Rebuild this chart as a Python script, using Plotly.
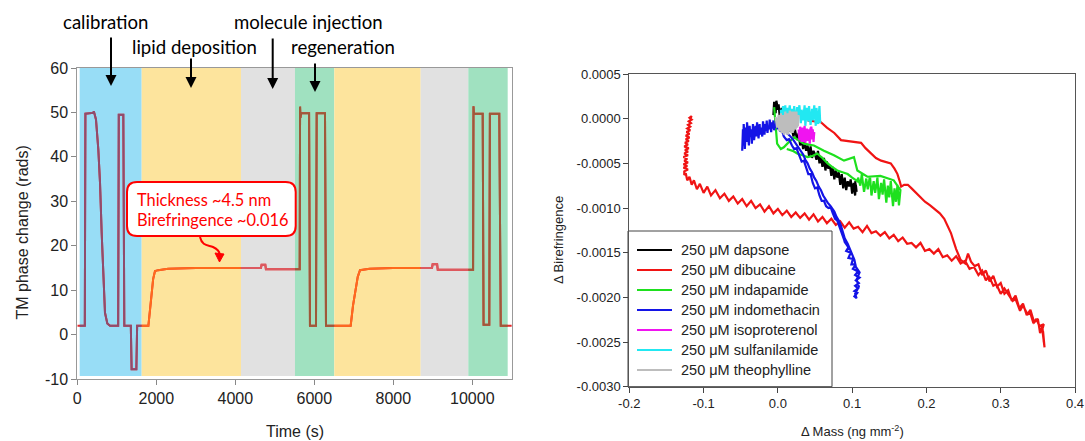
import plotly.graph_objects as go

W, H = 1085, 441

# ---------------- Left panel data ----------------
time_s = [0, 190, 205, 400, 420, 473, 532, 575, 617, 658, 701, 760, 828,
          1035, 1050, 1165, 1190, 1355, 1375, 1495, 1515, 1800, 1850, 1920,
          1967, 2050, 2300, 3000, 4000, 4650, 4665, 4760, 4775, 5630, 5640,
          5650, 5665, 5868, 5890, 6043, 6060, 6271, 6296, 6921, 6980, 7100,
          7157, 7400, 8000, 8980, 8995, 9110, 9125, 10020, 10030, 10040,
          10263, 10285, 10430, 10445, 10683, 10720, 11000]
phase_rads = [2.0, 2.0, 49.7, 49.9, 50.2, 48.4, 41.7, 34.2, 22.9, 11.6, 4.9, 2.5, 2.0,
              2.0, 49.5, 49.5, 2.0, 2.0, -7.8, -7.8, 2.0, 2.0, 6.0, 12.5,
              14.3, 14.5, 14.8, 15.0, 15.0, 15.0, 15.7, 15.7, 14.7, 14.7, 51.3,
              48.8, 49.8, 49.8, 2.0, 2.0, 49.8, 49.8, 2.0, 2.0, 6.5, 13.0,
              14.5, 14.8, 15.0, 15.0, 15.8, 15.8, 14.6, 14.6, 51.4, 49.7,
              49.7, 2.2, 2.2, 49.7, 49.7, 2.0, 2.0]

region_kind = ["cal", "lipid", "inj", "regen", "lipid", "inj", "regen"]
region_start = [60, 1630, 4144, 5511, 6506, 8694, 9899]
region_end = [1630, 4144, 5511, 6506, 8694, 9899, 10896]
region_bottom = -9.3
region_top = 60

left_xticks = [0, 2000, 4000, 6000, 8000, 10000]
left_xticktext = ["0", "2000", "4000", "6000", "8000", "10000"]
left_yticks = [-10, 0, 10, 20, 30, 40, 50, 60]
left_yticktext = ["-10", "0", "10", "20", "30", "40", "50", "60"]

# ---------------- Right panel data: (Δ mass, Δ birefringence) points ----------------
dapsone = [(-0.006, 0.00004), (-0.005, 0.00019), (-0.003, 0.00006), (-0.002, 0.00020), (0.000, 0.00010),
           (0.001, 0.00016), (0.003, -0.00002), (0.005, 0.00012), (0.007, -0.00006), (0.009, 0.00004),
           (0.011, -0.00012), (0.013, -0.00001), (0.016, -0.00014), (0.018, -0.00008), (0.021, -0.00020),
           (0.023, -0.00012), (0.026, -0.00024), (0.028, -0.00016), (0.030, -0.00030), (0.032, -0.00020),
           (0.034, -0.00034), (0.036, -0.00026), (0.038, -0.00036), (0.040, -0.00030), (0.042, -0.00042),
           (0.044, -0.00031), (0.046, -0.00044), (0.048, -0.00036), (0.050, -0.00040), (0.052, -0.00046),
           (0.054, -0.00036), (0.056, -0.00050), (0.058, -0.00042), (0.060, -0.00054), (0.062, -0.00044),
           (0.064, -0.00058), (0.066, -0.00048), (0.068, -0.00056), (0.070, -0.00052), (0.072, -0.00064),
           (0.074, -0.00054), (0.076, -0.00068), (0.078, -0.00058), (0.080, -0.00066), (0.082, -0.00060),
           (0.084, -0.00074), (0.086, -0.00062), (0.088, -0.00078), (0.090, -0.00066), (0.092, -0.00080),
           (0.094, -0.00070), (0.096, -0.00076), (0.098, -0.00068), (0.100, -0.00084), (0.102, -0.00072),
           (0.104, -0.00086), (0.105, -0.00074), (0.106, -0.00082), (0.104, -0.00070)]

dibucaine = [(0.040, -0.00002), (0.050, -0.00003), (0.058, -0.00004), (0.066, -0.00010), (0.076, -0.00016),
             (0.085, -0.00024), (0.095, -0.00025), (0.105, -0.00026), (0.112, -0.00027), (0.118, -0.00033),
             (0.125, -0.00039), (0.132, -0.00044), (0.139, -0.00047), (0.146, -0.00049), (0.152, -0.00050),
             (0.157, -0.00056), (0.161, -0.00062), (0.164, -0.00070), (0.166, -0.00076), (0.170, -0.00074),
             (0.175, -0.00074), (0.180, -0.00078), (0.185, -0.00082), (0.192, -0.00088), (0.198, -0.00093),
             (0.205, -0.00097), (0.212, -0.00102), (0.218, -0.00106), (0.224, -0.00112), (0.229, -0.00120),
             (0.233, -0.00128), (0.236, -0.00136), (0.240, -0.00146), (0.246, -0.00158), (0.252, -0.00162),
             (0.256, -0.00151), (0.260, -0.00160), (0.265, -0.00165), (0.270, -0.00163), (0.275, -0.00175),
             (0.280, -0.00170), (0.285, -0.00182), (0.290, -0.00176), (0.295, -0.00188), (0.300, -0.00184),
             (0.305, -0.00196), (0.310, -0.00192), (0.315, -0.00204), (0.320, -0.00198), (0.325, -0.00212),
             (0.330, -0.00207), (0.335, -0.00220), (0.340, -0.00214), (0.345, -0.00228), (0.350, -0.00224),
             (0.353, -0.00240), (0.356, -0.00232), (0.358, -0.00250), (0.357, -0.00238), (0.359, -0.00256),
             (0.356, -0.00236), (0.358, -0.00230),
             (0.352, -0.00232), (0.348, -0.00224), (0.344, -0.00229), (0.340, -0.00218), (0.336, -0.00219),
             (0.330, -0.00209), (0.326, -0.00215), (0.320, -0.00202), (0.316, -0.00204), (0.310, -0.00196),
             (0.305, -0.00190), (0.300, -0.00196), (0.294, -0.00185), (0.290, -0.00187), (0.284, -0.00176),
             (0.280, -0.00181), (0.275, -0.00170), (0.270, -0.00175), (0.264, -0.00166), (0.258, -0.00168),
             (0.252, -0.00159), (0.246, -0.00162), (0.240, -0.00154), (0.234, -0.00159), (0.228, -0.00153),
             (0.222, -0.00155), (0.216, -0.00146), (0.210, -0.00151), (0.204, -0.00146), (0.198, -0.00148),
             (0.192, -0.00139), (0.186, -0.00144), (0.180, -0.00139), (0.174, -0.00140), (0.168, -0.00133),
             (0.162, -0.00137), (0.156, -0.00130), (0.150, -0.00134), (0.144, -0.00127), (0.138, -0.00131),
             (0.132, -0.00126), (0.126, -0.00128), (0.120, -0.00120), (0.114, -0.00127), (0.108, -0.00121),
             (0.102, -0.00123), (0.096, -0.00116), (0.090, -0.00122), (0.084, -0.00115), (0.078, -0.00119),
             (0.072, -0.00112), (0.066, -0.00117), (0.060, -0.00110), (0.054, -0.00115), (0.048, -0.00107),
             (0.042, -0.00113), (0.036, -0.00106), (0.030, -0.00111), (0.024, -0.00105), (0.018, -0.00110),
             (0.012, -0.00103), (0.006, -0.00108), (0.000, -0.00101), (-0.006, -0.00106), (-0.012, -0.00098),
             (-0.018, -0.00104), (-0.024, -0.00096), (-0.030, -0.00100), (-0.036, -0.00092), (-0.042, -0.00098),
             (-0.048, -0.00090), (-0.054, -0.00095), (-0.060, -0.00087), (-0.066, -0.00092), (-0.072, -0.00084),
             (-0.078, -0.00089), (-0.084, -0.00080), (-0.090, -0.00086), (-0.095, -0.00076), (-0.100, -0.00083),
             (-0.105, -0.00073), (-0.109, -0.00079), (-0.113, -0.00069), (-0.116, -0.00074), (-0.119, -0.00065),
             (-0.122, -0.00069), (-0.124, -0.00061), (-0.126, -0.00063),
             (-0.126, -0.00059), (-0.121, -0.00057), (-0.127, -0.00055), (-0.122, -0.00053), (-0.127, -0.00051),
             (-0.121, -0.00049), (-0.126, -0.00047), (-0.122, -0.00045), (-0.127, -0.00043), (-0.121, -0.00041),
             (-0.126, -0.00039), (-0.121, -0.00037), (-0.125, -0.00035), (-0.120, -0.00033), (-0.126, -0.00031),
             (-0.121, -0.00029), (-0.125, -0.00027), (-0.120, -0.00025), (-0.124, -0.00023), (-0.119, -0.00021),
             (-0.124, -0.00019), (-0.119, -0.00017), (-0.123, -0.00015), (-0.118, -0.00013), (-0.122, -0.00011),
             (-0.118, -0.00009), (-0.121, -0.00007), (-0.117, -0.00005), (-0.120, -0.00003), (-0.116, -0.00001),
             (-0.119, 0.00001), (-0.116, 0.00003), (-0.118, 0.00000)]

indapamide = [(-0.005, 0.00013), (-0.003, -0.00009), (-0.001, -0.00028), (0.004, -0.00034), (0.008, -0.00032),
              (0.015, -0.00026), (0.022, -0.00021), (0.035, -0.00028), (0.0485, -0.00030), (0.062, -0.00036),
              (0.0755, -0.00041), (0.089, -0.00047), (0.1024, -0.00043), (0.107, -0.00058), (0.1205, -0.00065),
              (0.138, -0.00064), (0.156, -0.00069), (0.165, -0.00080),
              (0.163, -0.00097), (0.161, -0.00074), (0.159, -0.00093), (0.157, -0.00078), (0.155, -0.00098),
              (0.152, -0.00070), (0.150, -0.00088), (0.148, -0.00075), (0.146, -0.00094), (0.143, -0.00068),
              (0.141, -0.00085), (0.139, -0.00072), (0.136, -0.00090), (0.134, -0.00066), (0.131, -0.00083),
              (0.129, -0.00070), (0.126, -0.00086), (0.124, -0.00064), (0.121, -0.00079), (0.119, -0.00067),
              (0.116, -0.00082), (0.113, -0.00062), (0.111, -0.00075), (0.108, -0.00066),
              (0.107, -0.00070), (0.100, -0.00066), (0.094, -0.00062), (0.087, -0.00060), (0.080, -0.00058),
              (0.073, -0.00054), (0.067, -0.00050), (0.060, -0.00044), (0.053, -0.00039), (0.046, -0.00042),
              (0.040, -0.00043), (0.033, -0.00041), (0.026, -0.00039), (0.020, -0.00036), (0.012, -0.00034)]

indomethacin = [(-0.048, -0.00036), (-0.047, -0.00012), (-0.0465, -0.00030), (-0.046, -0.00006), (-0.045, -0.00022),
                (-0.0445, -0.00034), (-0.043, -0.00010), (-0.042, -0.00026), (-0.0415, -0.00004), (-0.040, -0.00018),
                (-0.039, -0.00030), (-0.038, -0.00008), (-0.037, -0.00020), (-0.036, -0.00012), (-0.035, -0.00028),
                (-0.0335, -0.00006), (-0.033, -0.00016), (-0.032, -0.00024), (-0.030, -0.00008), (-0.029, -0.00020),
                (-0.028, -0.00004), (-0.027, -0.00014), (-0.026, -0.00022), (-0.0245, -0.00006), (-0.024, -0.00018),
                (-0.023, -0.00010), (-0.021, -0.00020), (-0.020, -0.00003), (-0.019, -0.00012), (-0.018, -0.00018),
                (-0.017, -0.00006), (-0.016, -0.00014), (-0.015, -0.00002), (-0.014, -0.00016), (-0.013, -0.00008),
                (-0.012, -0.00012), (-0.011, -0.00001), (-0.010, -0.00010), (-0.009, -0.00015), (-0.008, -0.00004),
                (-0.007, -0.00011), (-0.006, -0.00002), (-0.005, -0.00013), (-0.004, -0.00006), (-0.003, -0.00010),
                (-0.002, 0.00000), (-0.001, -0.00008), (0.000, -0.00012), (0.001, -0.00005), (0.002, -0.00010),
                (0.003, -0.00014), (0.005, -0.00012),
                (0.008, -0.00020), (0.012, -0.00024), (0.015, -0.00023), (0.019, -0.00030), (0.022, -0.00034),
                (0.025, -0.00033), (0.029, -0.00042), (0.032, -0.00048), (0.035, -0.00047), (0.038, -0.00056),
                (0.041, -0.00062), (0.044, -0.00062), (0.047, -0.00072), (0.050, -0.00078), (0.053, -0.00077),
                (0.056, -0.00086), (0.059, -0.00092), (0.062, -0.00092), (0.065, -0.00098), (0.068, -0.00100),
                (0.071, -0.00099), (0.074, -0.00106), (0.077, -0.00112), (0.080, -0.00114), (0.083, -0.00120),
                (0.086, -0.00128), (0.089, -0.00135),
                (0.090, -0.00138), (0.095, -0.00144), (0.092, -0.00148), (0.098, -0.00150), (0.095, -0.00156),
                (0.101, -0.00157), (0.099, -0.00163), (0.105, -0.00163), (0.101, -0.00168), (0.108, -0.00171),
                (0.104, -0.00175), (0.110, -0.00178), (0.105, -0.00181), (0.109, -0.00184), (0.104, -0.00187),
                (0.108, -0.00190), (0.103, -0.00193), (0.107, -0.00195), (0.103, -0.00199), (0.106, -0.00201),
                (0.104, -0.00196), (0.109, -0.00188), (0.106, -0.00180), (0.110, -0.00172), (0.105, -0.00166),
                (0.103, -0.00158), (0.099, -0.00150), (0.096, -0.00143),
                (0.094, -0.00140), (0.090, -0.00134), (0.088, -0.00128), (0.085, -0.00120), (0.082, -0.00114),
                (0.079, -0.00110), (0.076, -0.00104), (0.073, -0.00100), (0.071, -0.00098), (0.067, -0.00094),
                (0.064, -0.00090), (0.061, -0.00086), (0.058, -0.00080), (0.055, -0.00076), (0.052, -0.00070),
                (0.049, -0.00066), (0.046, -0.00060), (0.043, -0.00056), (0.040, -0.00050), (0.037, -0.00046),
                (0.034, -0.00040), (0.031, -0.00036), (0.028, -0.00032), (0.025, -0.00028), (0.021, -0.00024),
                (0.016, -0.00019), (0.011, -0.00015)]

isoproterenol = [(0.028, -0.00012), (0.029, -0.00024), (0.030, -0.00009), (0.032, -0.00026), (0.033, -0.00012),
                 (0.034, -0.00022), (0.036, -0.00008), (0.037, -0.00027), (0.039, -0.00011), (0.040, -0.00025),
                 (0.041, -0.00014), (0.043, -0.00028), (0.044, -0.00010), (0.045, -0.00023), (0.047, -0.00012),
                 (0.048, -0.00026), (0.049, -0.00015), (0.047, -0.00021), (0.045, -0.00009), (0.043, -0.00020),
                 (0.041, -0.00012), (0.039, -0.00024), (0.037, -0.00014), (0.035, -0.00026), (0.033, -0.00010),
                 (0.031, -0.00022), (0.029, -0.00013)]

sulfanilamide = [(0.004, 0.00010), (0.005, -0.00003), (0.007, 0.00014), (0.008, 0.00001), (0.010, 0.00015),
                 (0.011, -0.00005), (0.013, 0.00012), (0.014, 0.00002), (0.016, 0.00015), (0.018, -0.00004),
                 (0.019, 0.00011), (0.021, -0.00001), (0.022, 0.00014), (0.024, -0.00006), (0.026, 0.00013),
                 (0.027, 0.00003), (0.029, 0.00015), (0.031, -0.00005), (0.032, 0.00010), (0.034, -0.00002),
                 (0.036, 0.00015), (0.037, -0.00008), (0.039, 0.00012), (0.041, -0.00003), (0.042, 0.00014),
                 (0.044, -0.00007), (0.046, 0.00011), (0.047, -0.00002), (0.049, 0.00015), (0.051, -0.00008),
                 (0.052, 0.00012), (0.054, -0.00006), (0.056, 0.00014), (0.057, -0.00005)]

theophylline = [(-0.003, 0.00002), (-0.001, -0.00010), (0.001, 0.00004), (0.002, -0.00014), (0.004, 0.00006),
                (0.005, -0.00016), (0.007, 0.00004), (0.008, -0.00018), (0.010, 0.00008), (0.011, -0.00016),
                (0.013, 0.00006), (0.014, -0.00018), (0.016, 0.00009), (0.017, -0.00014), (0.019, 0.00008),
                (0.020, -0.00016), (0.022, 0.00006), (0.023, -0.00012), (0.025, 0.00008), (0.026, -0.00010),
                (0.028, 0.00004), (0.027, -0.00008), (0.025, 0.00006), (0.024, -0.00012), (0.022, 0.00008),
                (0.021, -0.00014), (0.019, 0.00006), (0.018, -0.00016), (0.016, 0.00004), (0.015, -0.00014),
                (0.013, 0.00006), (0.012, -0.00018), (0.010, 0.00004), (0.009, -0.00016), (0.007, 0.00002),
                (0.006, -0.00014), (0.004, 0.00000), (0.003, -0.00012), (0.001, -0.00004)]

series_names = ["250 μM dapsone", "250 μM dibucaine", "250 μM indapamide", "250 μM indomethacin",
                "250 μM isoproterenol", "250 μM sulfanilamide", "250 μM theophylline"]
series_points = [dapsone, dibucaine, indapamide, indomethacin, isoproterenol, sulfanilamide, theophylline]
series_colors = ["#000000", "#F01414", "#1EE01E", "#1414E6", "#F014F0", "#22E8F2", "#BDBDBD"]

right_xticks = [-0.2, -0.1, 0.0, 0.1, 0.2, 0.3, 0.4]
right_xticktext = ["-0.2", "-0.1", "0.0", "0.1", "0.2", "0.3", "0.4"]
right_yticks = [0.0005, 0.0, -0.0005, -0.0010, -0.0015, -0.0020, -0.0025, -0.0030]
right_yticktext = ["0.0005", "0.0000", "-0.0005", "-0.0010", "-0.0015", "-0.0020", "-0.0025", "-0.0030"]

# ---------------- styling ----------------
bg_color = {"cal": "#98DDF6", "lipid": "#FDE49D", "inj": "#E1E1E1", "regen": "#A0E1C0"}
line_color = {"cal": "#8E4C6E", "lipid": "#FF6A1C", "inj": "#DC5A60", "regen": "#9C5A3A"}
base_line_color = "#E8282A"


def px(x):
    return x / W


def py(y):
    return 1 - y / H


L_X0, L_X1 = 77.3, 511.8
L_Y0, L_Y1 = 379.0, 68.0
R_X0, R_X1 = 629.3, 1075.0
R_Y0, R_Y1 = 386.7, 74.0
T_MAX = 11000

fig = go.Figure()

fig.add_trace(go.Scatter(x=time_s, y=phase_rads, mode="lines", xaxis="x", yaxis="y",
                         line=dict(color=base_line_color, width=2), showlegend=False,
                         hoverinfo="skip"))

layout_axes = {}
for i, (k, a, b) in enumerate(zip(region_kind, region_start, region_end)):
    ax_id = i + 3
    d0 = px(L_X0 + (L_X1 - L_X0) * a / T_MAX)
    d1 = px(L_X0 + (L_X1 - L_X0) * b / T_MAX)
    layout_axes[f"xaxis{ax_id}"] = dict(domain=[d0, d1], range=[a, b], anchor="y",
                                        visible=False, showgrid=False, zeroline=False)
    fig.add_trace(go.Scatter(x=time_s, y=phase_rads, mode="lines", xaxis=f"x{ax_id}", yaxis="y",
                             line=dict(color=line_color[k], width=2), showlegend=False,
                             hoverinfo="skip"))

for name, pts, c in zip(series_names, series_points, series_colors):
    fig.add_trace(go.Scatter(x=[p[0] for p in pts], y=[p[1] for p in pts], mode="lines", name=name,
                             xaxis="x2", yaxis="y2", line=dict(color=c, width=2.2), showlegend=False))

shapes = []
for k, a, b in zip(region_kind, region_start, region_end):
    shapes.append(dict(type="rect", xref="x", yref="y", x0=a, x1=b, y0=region_bottom, y1=region_top,
                       fillcolor=bg_color[k], line=dict(width=0), layer="below"))

# legend box + entries (drawn manually to match the reference layout)
shapes.append(dict(type="rect", xref="paper", yref="paper", x0=px(628), x1=px(832),
                   y0=py(386.7), y1=py(231), fillcolor="white", line=dict(color="#444", width=1),
                   layer="below"))
annotations = []
legend_font = dict(family="Arial, Liberation Sans, sans-serif", size=14.5, color="#222")
for i, (name, c) in enumerate(zip(series_names, series_colors)):
    yc = 250 + 20 * i
    shapes.append(dict(type="line", xref="paper", yref="paper", x0=px(637), x1=px(672),
                       y0=py(yc), y1=py(yc), line=dict(color=c, width=2.2)))
    annotations.append(dict(text=name, x=px(679), y=py(yc), xref="paper", yref="paper",
                            showarrow=False, font=legend_font, xanchor="left", yanchor="middle"))

# rounded red annotation box
bx0, bx1, by0, by1, r = 127, 295.7, 182, 236, 10
path = (f"M {px(bx0 + r)},{py(by0)} L {px(bx1 - r)},{py(by0)} Q {px(bx1)},{py(by0)} {px(bx1)},{py(by0 + r)} "
        f"L {px(bx1)},{py(by1 - r)} Q {px(bx1)},{py(by1)} {px(bx1 - r)},{py(by1)} "
        f"L {px(bx0 + r)},{py(by1)} Q {px(bx0)},{py(by1)} {px(bx0)},{py(by1 - r)} "
        f"L {px(bx0)},{py(by0 + r)} Q {px(bx0)},{py(by0)} {px(bx0 + r)},{py(by0)} Z")
shapes.append(dict(type="path", xref="paper", yref="paper", path=path, fillcolor="white",
                   line=dict(color="#FF0000", width=2), layer="above"))
curve = (f"M {px(200)},{py(237)} C {px(202)},{py(246)} {px(208)},{py(245)} {px(213)},{py(247)} "
         f"C {px(217)},{py(249)} {px(219.5)},{py(251)} {px(219.5)},{py(254)}")
shapes.append(dict(type="path", xref="paper", yref="paper", path=curve,
                   line=dict(color="#FF0000", width=2), layer="above"))
head = f"M {px(215)},{py(253)} L {px(224)},{py(254)} L {px(219.5)},{py(262)} Z"
shapes.append(dict(type="path", xref="paper", yref="paper", path=head, fillcolor="#FF0000",
                   line=dict(color="#FF0000", width=1), layer="above"))

label_font = dict(family="Lato, Carlito, sans-serif", size=18.6, color="#000")
for text, xc, yc in [("calibration", 105.5, 21.7), ("lipid deposition", 194, 46.7),
                     ("molecule injection", 308.3, 21.7), ("regeneration", 343.3, 46.7)]:
    annotations.append(dict(text=text, x=px(xc), y=py(yc), xref="paper", yref="paper", showarrow=False,
                            font=label_font, xanchor="center", yanchor="middle"))
for (ax_x, tail_y, tip_y) in [(111, 36, 86), (191, 57, 88), (272.7, 37, 89), (315, 62, 92)]:
    annotations.append(dict(text="", x=px(ax_x), y=py(tip_y), xref="paper", yref="paper",
                            ax=0, ay=tail_y - tip_y, showarrow=True, arrowhead=2, arrowsize=1.1,
                            arrowwidth=2, arrowcolor="#000", standoff=0))

red_font = dict(family="Lato, Carlito, sans-serif", size=16.4, color="#FF0000")
annotations.append(dict(text="Thickness ~4.5 nm", x=px(135), y=py(199.3), xref="paper", yref="paper",
                        showarrow=False, font=red_font, xanchor="left", yanchor="middle"))
annotations.append(dict(text="Birefringence ~0.016", x=px(135), y=py(219.3), xref="paper", yref="paper",
                        showarrow=False, font=red_font, xanchor="left", yanchor="middle"))

axis_font_l = dict(family="Arial, Liberation Sans, sans-serif", size=16, color="#222")
axis_font_r = dict(family="Arial, Liberation Sans, sans-serif", size=13, color="#222")
annotations.append(dict(text="Time (s)", x=px(295), y=py(431.7), xref="paper", yref="paper",
                        showarrow=False, font=axis_font_l, xanchor="center", yanchor="middle"))
annotations.append(dict(text="TM phase change (rads)", x=px(21.5), y=py(233), xref="paper", yref="paper",
                        showarrow=False, font=axis_font_l, xanchor="center", yanchor="middle",
                        textangle=-90))
annotations.append(dict(text="Δ Mass (ng mm<sup>-2</sup>)", x=px(852), y=py(431), xref="paper", yref="paper",
                        showarrow=False, font=axis_font_r, xanchor="center", yanchor="middle"))
annotations.append(dict(text="Δ Birefringence", x=px(558), y=py(240), xref="paper", yref="paper",
                        showarrow=False, font=axis_font_r, xanchor="center", yanchor="middle",
                        textangle=-90))

fig.update_layout(
    width=W, height=H, margin=dict(l=0, r=0, t=0, b=0, autoexpand=False),
    paper_bgcolor="white", plot_bgcolor="rgba(0,0,0,0)",
    showlegend=False,
    xaxis=dict(domain=[px(L_X0), px(L_X1)], range=[0, T_MAX], anchor="y",
               tickvals=left_xticks, ticktext=left_xticktext, ticks="outside", ticklen=5,
               tickcolor="#888", showline=True, linecolor="#999", mirror=True, showgrid=False,
               zeroline=False, tickfont=axis_font_l),
    yaxis=dict(domain=[py(L_Y0), py(L_Y1)], range=[-10, 60], anchor="x",
               tickvals=left_yticks, ticktext=left_yticktext, ticks="outside", ticklen=5,
               tickcolor="#888", showline=True, linecolor="#999", mirror=True, showgrid=False,
               zeroline=False, tickfont=axis_font_l),
    xaxis2=dict(domain=[px(R_X0), px(R_X1)], range=[-0.2, 0.4], anchor="y2",
                tickvals=right_xticks, ticktext=right_xticktext, ticks="outside", ticklen=5,
                tickcolor="#444", showline=True, linecolor="#555", mirror=True, showgrid=False,
                zeroline=False, tickfont=axis_font_r),
    yaxis2=dict(domain=[py(R_Y0), py(R_Y1)], range=[-0.003, 0.0005], anchor="x2",
                tickvals=right_yticks, ticktext=right_yticktext, ticks="outside", ticklen=5,
                tickcolor="#444", showline=True, linecolor="#555", mirror=True, showgrid=False,
                zeroline=False, tickfont=axis_font_r),
    shapes=shapes, annotations=annotations,
    **layout_axes,
)

fig.write_html("out.html", config={"displayModeBar": False},
               post_script="document.body.style.margin='0';document.body.style.overflow='hidden';")
